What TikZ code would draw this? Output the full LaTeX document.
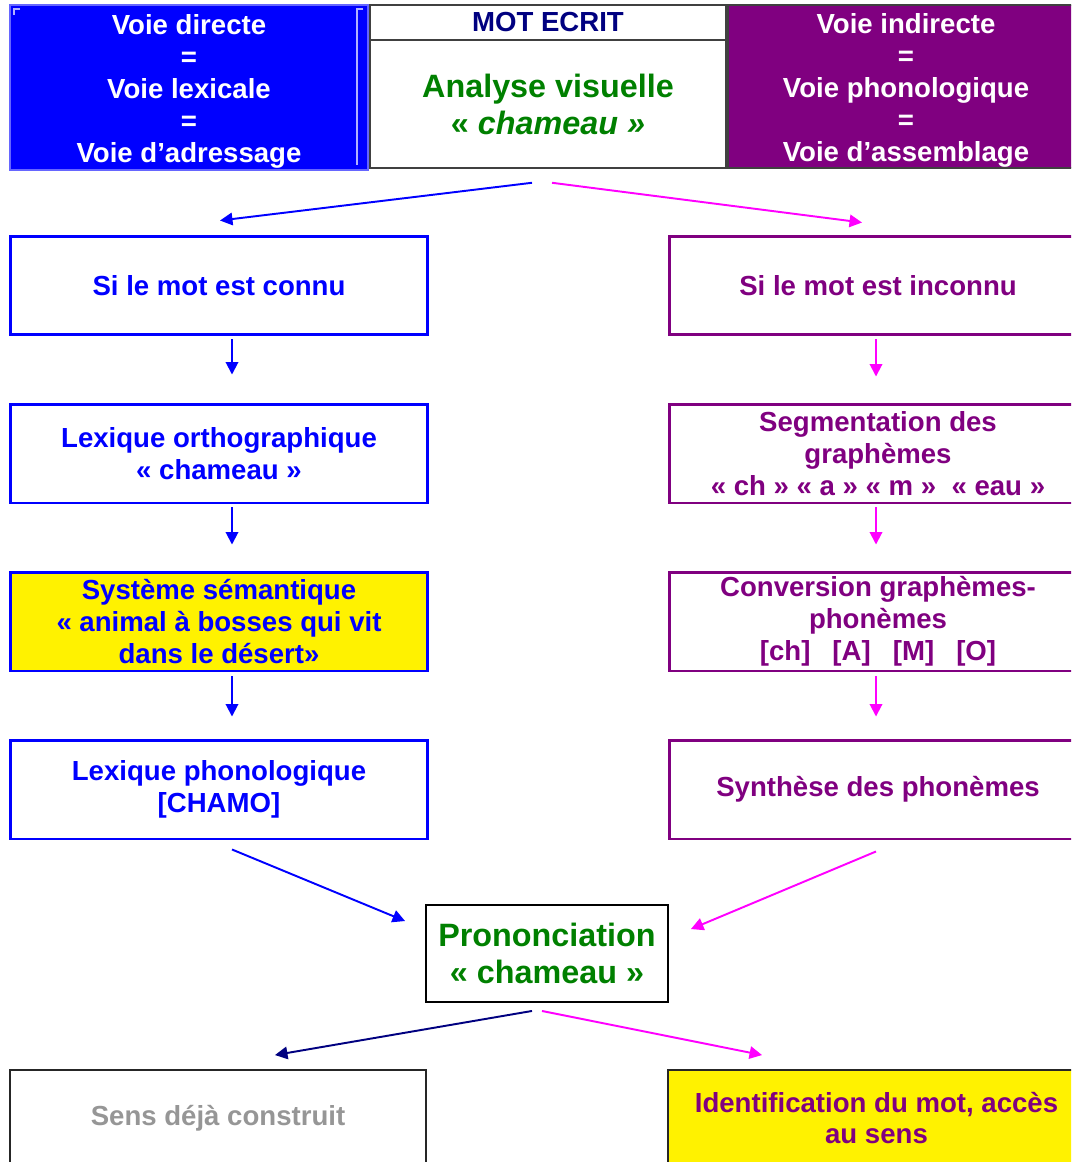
\documentclass[tikz,border=0pt]{standalone}
\usepackage{fontspec}
\setmainfont{Liberation Sans}
\usetikzlibrary{arrows.meta,positioning,calc}

\definecolor{voieblue}{RGB}{0,0,255}
\definecolor{voiepurple}{RGB}{128,0,128}
\definecolor{voiepink}{RGB}{255,0,255}
\definecolor{voiegreen}{RGB}{0,128,0}
\definecolor{voienavy}{RGB}{0,0,128}
\definecolor{voiegray}{RGB}{150,150,150}

\tikzstyle{every node}=[font=\fontsize{15.7}{18.2}\selectfont\bfseries, align=center, inner sep=0pt]
\tikzstyle{big} = [font=\fontsize{18.4}{21}\selectfont\bfseries]
\tikzstyle{bluebox} = [draw=voieblue, line width=1.7pt, text=voieblue, minimum width=8.36cm, minimum height=1.98cm]
\tikzstyle{purplebox} = [draw=voiepurple, line width=1.7pt, text=voiepurple, minimum width=8.36cm, minimum height=1.98cm]
\tikzstyle{endbox} = [draw=black!85, line width=1.1pt, minimum width=8.33cm, minimum height=1.92cm]
\tikzstyle{blueline} = [draw=voieblue, line width=1.1pt, -{Triangle[length=0.25cm,width=0.25cm]}]
\tikzstyle{pinkline} = [draw=voiepink, line width=1.1pt, -{Triangle[length=0.25cm,width=0.25cm]}]

\begin{document}
\begin{tikzpicture}[x=0.02cm, y=-0.02cm, line join=miter]
    \path[use as bounding box, clip] (0,0) rectangle (1071,1162);

    % header
    \node [fill=voieblue, draw=voieblue!60!white, line width=0.8pt, text=white, minimum width=7.16cm, minimum height=3.3cm] (directe) at (189,87.5)
        {\rule{0pt}{16pt}Voie directe\\=\\Voie lexicale\\=\\Voie d’adressage};
    \draw[voieblue!30!white, line width=0.6pt] (20,9) -- (14,9) -- (14,15);
    \draw[voieblue!30!white, line width=0.6pt] (363,9) -- (357,9) -- (357,165);
    \node [draw=black!75, line width=0.9pt, text=voienavy, minimum width=7.12cm, minimum height=0.7cm] (motecrit) at (548,22.5) {MOT ECRIT};
    \node [big, draw=black!75, line width=0.9pt, text=voiegreen, minimum width=7.12cm, minimum height=2.56cm] (analyse) at (548,104)
        {Analyse visuelle\\« \textit{chameau »}};
    \node [fill=voiepurple, draw=black!75, line width=0.9pt, text=white, minimum width=7.12cm, minimum height=3.26cm] (indirecte) at (906,86.5)
        {\rule{0pt}{16pt}Voie indirecte\\=\\Voie phonologique\\=\\Voie d’assemblage};

    % voie directe
    \node [bluebox] (connu) at (219,285.5) {Si le mot est connu};
    \node [bluebox] (ortho) at (219,453.5) {Lexique orthographique\\« chameau »};
    \node [bluebox, fill=yellow] (sem) at (219,621.5) {Système sémantique\\« animal à bosses qui vit\\dans le désert»};
    \node [bluebox] (phono) at (219,789.5) {Lexique phonologique\\{[CHAMO]}};

    % voie indirecte
    \node [purplebox] (inconnu) at (878,285.5) {Si le mot est inconnu};
    \node [purplebox] (segm) at (878,453.5) {Segmentation des\\graphèmes\\« ch » « a » « m » ~« eau »};
    \node [purplebox] (conv) at (878,621.5) {Conversion graphèmes-\\phonèmes\\{[ch]}\hspace{0.8em}[A]\hspace{0.8em}[M]\hspace{0.8em}[O]};
    \node [purplebox] (synth) at (878,789.5) {Synthèse des phonèmes};

    \node [big, draw=black, line width=1.1pt, text=voiegreen, minimum width=4.84cm, minimum height=1.94cm] (pron) at (547,953.5)
        {Prononciation\\« chameau »};

    \node [endbox, text=voiegray] (sens) at (218,1118) {Sens déjà construit};
    \node [endbox, fill=yellow, text=voiepurple] (ident) at (876.5,1118) {Identification du mot, accès\\au sens};

    \draw[blueline] ([xshift=-0.32cm,yshift=-0.28cm]analyse.south) -- ([xshift=0.02cm,yshift=0.28cm]connu.north);
    \draw[pinkline] ([xshift=0.08cm,yshift=-0.28cm]analyse.south) -- ([xshift=-0.32cm,yshift=0.24cm]inconnu.north);

    \draw[blueline] ([xshift=0.26cm,yshift=-0.06cm]connu.south) -- ([xshift=0.26cm,yshift=0.56cm]ortho.north);
    \draw[blueline] ([xshift=0.26cm,yshift=-0.06cm]ortho.south) -- ([xshift=0.26cm,yshift=0.52cm]sem.north);
    \draw[blueline] ([xshift=0.26cm,yshift=-0.08cm]sem.south) -- ([xshift=0.26cm,yshift=0.44cm]phono.north);

    \draw[pinkline] ([xshift=-0.04cm,yshift=-0.06cm]inconnu.south) -- ([xshift=-0.04cm,yshift=0.52cm]segm.north);
    \draw[pinkline] ([xshift=-0.04cm,yshift=-0.06cm]segm.south) -- ([xshift=-0.04cm,yshift=0.52cm]conv.north);
    \draw[pinkline] ([xshift=-0.04cm,yshift=-0.08cm]conv.south) -- ([xshift=-0.04cm,yshift=0.44cm]synth.north);

    \draw[blueline] ([xshift=0.26cm,yshift=-0.18cm]phono.south) -- ([xshift=-0.4cm,yshift=-0.34cm]pron.north west);
    \draw[pinkline] ([xshift=-0.04cm,yshift=-0.22cm]synth.south) -- ([xshift=0.44cm,yshift=-0.5cm]pron.north east);

    \draw[blueline, draw=voienavy, fill=voienavy] ([xshift=-0.3cm,yshift=-0.16cm]pron.south) -- ([xshift=1.14cm,yshift=0.28cm]sens.north);
    \draw[pinkline] ([xshift=-0.1cm,yshift=-0.16cm]pron.south) -- ([xshift=-2.29cm,yshift=0.28cm]ident.north);

\end{tikzpicture}
\end{document}
